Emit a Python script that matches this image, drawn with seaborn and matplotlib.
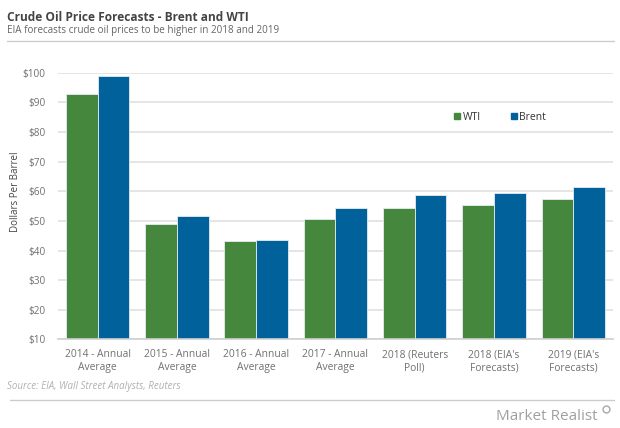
import pandas as pd
import seaborn as sns
import matplotlib.pyplot as plt
from matplotlib.lines import Line2D

categories = [
    "2014 - Annual\nAverage",
    "2015 - Annual\nAverage",
    "2016 - Annual\nAverage",
    "2017 - Annual\nAverage",
    "2018 (Reuters\nPoll)",
    "2018 (EIA's\nForecasts)",
    "2019 (EIA's\nForecasts)",
]
wti = [92.8, 48.8, 43.1, 50.6, 54.5, 55.2, 57.3]
brent = [99.0, 51.8, 43.4, 54.2, 58.7, 59.5, 61.3]
y_ticks = [10, 20, 30, 40, 50, 60, 70, 80, 90, 100]

df = pd.DataFrame({
    "category": categories * 2,
    "price": wti + brent,
    "series": ["WTI"] * len(wti) + ["Brent"] * len(brent),
})

green = "#45873c"
blue = "#00619b"

sns.set_style("white")
plt.rcParams["font.family"] = ["Open Sans", "DejaVu Sans"]

fig = plt.figure(figsize=(6.2, 4.28), dpi=100)
ax = fig.add_axes([0.0935, 0.207, 0.895, 0.623])

sns.barplot(
    data=df,
    x="category",
    y="price",
    hue="series",
    hue_order=["WTI", "Brent"],
    palette={"WTI": green, "Brent": blue},
    saturation=1,
    width=0.8,
    edgecolor="#e6edf3",
    linewidth=0.6,
    ax=ax,
)

ax.set_ylim(10, 100)
ax.set_yticks(y_ticks)
ax.set_yticklabels([f"${v}" for v in y_ticks])
ax.yaxis.grid(True, color="#e0e0e0", linewidth=1.2)
ax.set_axisbelow(True)
for side in ["top", "right", "left"]:
    ax.spines[side].set_visible(False)
ax.spines["bottom"].set_color("#d0d0d0")
ax.spines["bottom"].set_linewidth(1.2)
ax.tick_params(axis="y", length=0, pad=9, labelsize=7.2, labelcolor="#707070")
ax.tick_params(axis="x", length=0, pad=7, labelsize=7.4, labelcolor="#707070")
for lab in ax.get_xticklabels():
    lab.set_linespacing(1.25)
ax.set_xlabel("")
ax.set_ylabel("Dollars Per Barrel", fontsize=7, color="#444444")
ax.yaxis.set_label_coords(-0.066, 0.552)

handles = [
    Line2D([], [], marker="s", linestyle="", color=green, markersize=4.5),
    Line2D([], [], marker="s", linestyle="", color=blue, markersize=4.5),
]
ax.legend(handles, ["WTI", "Brent"], frameon=False, ncol=2, loc="center left",
          bbox_to_anchor=(0.703, 0.832), borderpad=0, handlelength=0.8,
          handletextpad=0.15, columnspacing=2.7,
          prop={"size": 7.5}, labelcolor="#333333")

fig.text(0.012, 0.960, "Crude Oil Price Forecasts - Brent and WTI",
         fontsize=8.6, fontweight="bold", color="#444444", va="center")
fig.text(0.012, 0.928, "EIA forecasts crude oil prices to be higher in 2018 and 2019",
         fontsize=7.1, color="#666666", va="center")
fig.add_artist(Line2D([0.011, 0.99], [0.904, 0.904], color="#cccccc", linewidth=1))
fig.text(0.011, 0.096, "Source: EIA, Wall Street Analysts, Reuters",
         fontsize=7, style="italic", color="#b0b0b0", va="center")
fig.add_artist(Line2D([0.016, 0.99], [0.065, 0.065], color="#cccccc", linewidth=1))
fig.text(0.964, 0.026, "Market Realist", fontsize=11, color="#a0a0a0",
         ha="right", va="center")
fig.add_artist(Line2D([0.977], [0.045], marker="o", markersize=5,
                      markerfacecolor="none", markeredgecolor="#a0a0a0",
                      markeredgewidth=0.9, linestyle=""))

fig.savefig("out.png", dpi=100, facecolor="white")
